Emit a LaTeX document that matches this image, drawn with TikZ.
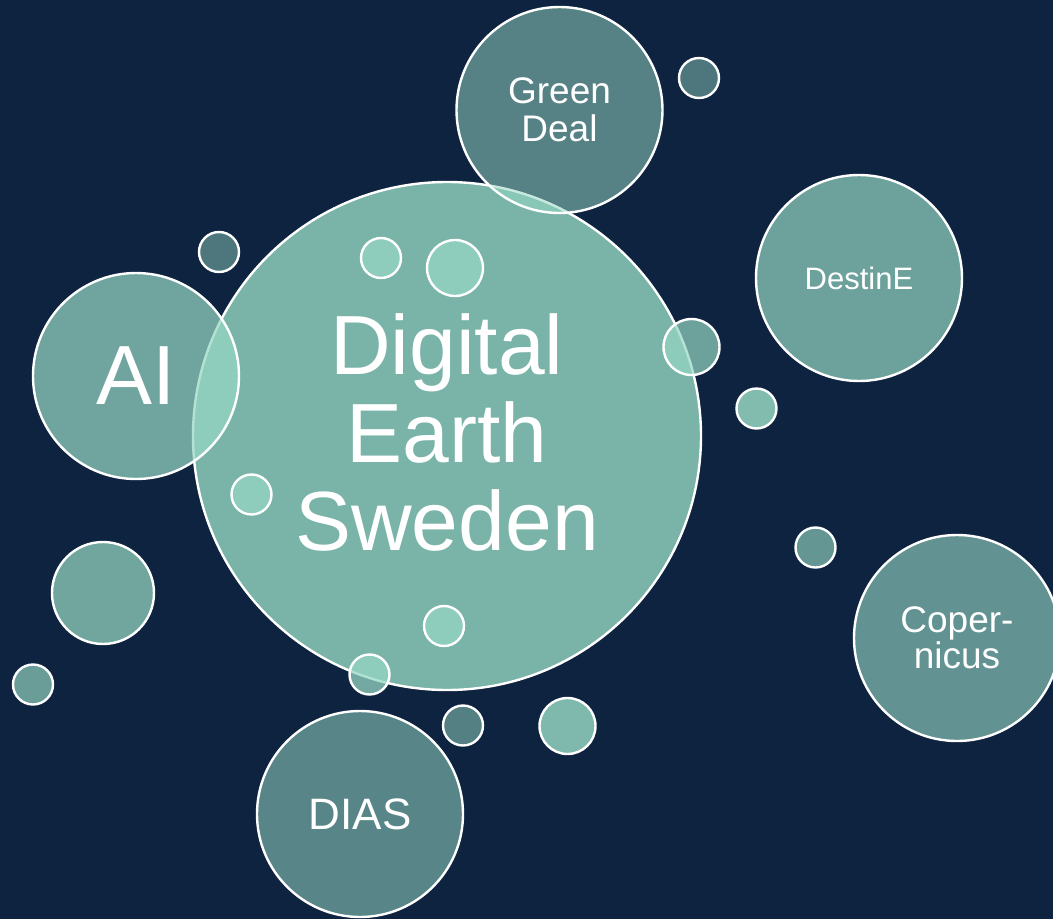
\documentclass[tikz,border=0pt]{standalone}
\usepackage{fontspec}
\setmainfont{Liberation Sans}
\definecolor{navy}{RGB}{14,35,64}
\definecolor{bubbleteal}{RGB}{150,215,195}
\begin{document}
\begin{tikzpicture}[x=1pt, y=-1pt,
       bubble/.style={circle, draw=white, line width=2.4pt, fill=bubbleteal,
             text=white, text opacity=1, inner sep=0pt, align=center},
       big/.style={bubble, minimum size=508pt},
       topic/.style={bubble, minimum size=206pt},
       mid/.style={bubble, minimum size=102pt},
       blob/.style={bubble, minimum size=56pt},
       dot/.style={bubble, minimum size=40pt}]
\useasboundingbox (0,0) rectangle (1053,919);
\fill[navy] (0,0) rectangle (1053,919);
% main bubble
\node[big, fill opacity=0.8, font=\fontsize{84}{88}\selectfont, text depth=8pt] (des) at (447,436) {Digital\\Earth\\Sweden};
% topics
\node[topic, fill opacity=0.53, font=\fontsize{37}{38}\selectfont] (green) at (559.5,110) {Green\\Deal};
\node[topic, fill opacity=0.7, font=\fontsize{31}{32}\selectfont] (destine) at (859,278) {DestinE};
\node[topic, fill opacity=0.72, font=\fontsize{84}{89}\selectfont] (ai) at (136,376) {AI};
\node[topic, fill opacity=0.62, font=\fontsize{37}{36}\selectfont] (copernicus) at (957,638) {Coper-\\nicus};
\node[topic, fill opacity=0.55, font=\fontsize{44}{46}\selectfont] (dias) at (360,814) {DIAS};
% small bubbles
\node[mid, fill opacity=0.73] (left) at (103,593) {};
\node[dot, fill opacity=0.47] (greendot) at (699,78) {};
\node[dot, fill opacity=0.47] (aidot) at (219,252) {};
\node[dot, fill opacity=0.75] (innera) at (381,258) {};
\node[blob, fill opacity=0.75] (innerb) at (455,268) {};
\node[blob, fill opacity=0.7] (rim) at (691.5,347) {};
\node[dot, fill opacity=0.85] (destinedot) at (756.5,408.5) {};
\node[dot, fill opacity=0.75] (innerc) at (251.5,494.5) {};
\node[dot, fill opacity=0.64] (copdot) at (815.5,547.5) {};
\node[dot, fill opacity=0.68] (corner) at (33,684.5) {};
\node[dot, fill opacity=0.75] (innerd) at (444,626) {};
\node[dot, fill opacity=0.75] (rimb) at (369.5,674.5) {};
\node[dot, fill opacity=0.52] (diasdot) at (463,725.5) {};
\node[blob, fill opacity=0.83] (diasblob) at (567.5,726) {};
\end{tikzpicture}
\end{document}
